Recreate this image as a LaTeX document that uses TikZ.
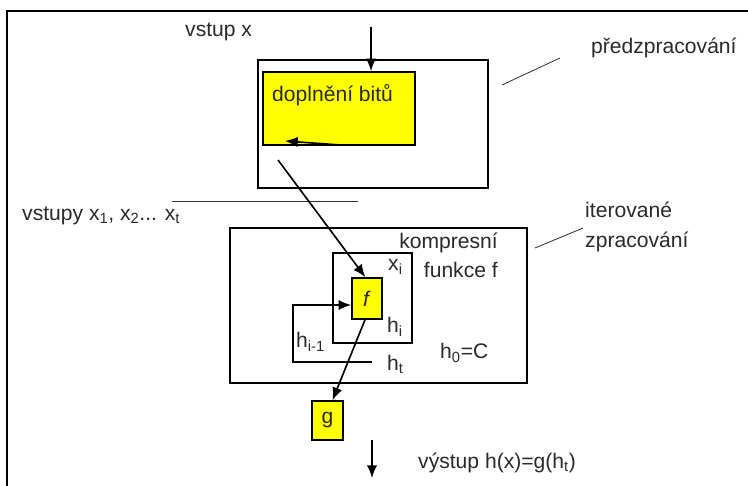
\documentclass[tikz,border=0pt]{standalone}
\usepackage{fontspec}
\setmainfont{Liberation Sans}
\usetikzlibrary{arrows.meta, positioning, calc}
\definecolor{zlutaBlok}{HTML}{FFFF00}
\definecolor{seduText}{HTML}{2A2A2A}
\colorlet{colCara}{black}
\tikzset{
  ramec/.style={
    draw=colCara, line width=1.4pt, inner sep=0pt
  },
  ramecBlok/.style={ramec},
  zlutyBlok/.style={ramec, fill=zlutaBlok, font=\fontsize{18}{21}\selectfont, text=seduText},
  sipka/.style={-{Latex[length=3.8mm, width=3.1mm]}, line width=1.4pt, colCara},
  cara/.style={line width=1.4pt, colCara},
  voditko/.style={line width=0.7pt, colCara!80},
  popis/.style={font=\fontsize{18}{21}\selectfont, text=seduText, inner sep=0pt, anchor=west},
}
\begin{document}
\begin{tikzpicture}[x=0.03cm, y=-0.03cm]
    \useasboundingbox (0,0) rectangle (748,486);
    \draw[line width=1pt] (7,486) -- (7,11) -- (748,11);
    % predzpracovani
    \node[ramecBlok, minimum width=6.9cm, minimum height=3.84cm] (predBox) at (373,124) {};
    \node[zlutyBlok, minimum width=4.56cm, minimum height=2.19cm] (doplneni) at (339,108.5) {};
    \node[popis] (doplneniText) at (272,95) {doplnění bitů};
    \node[popis] (vstupText) at (185,32) {vstup x};
    \coordinate (vstupHore) at (371,27);
    \draw[sipka] (vstupHore) -- (vstupHore |- doplneni.north);
    \coordinate (vnitrniStart) at (340,145);
    \coordinate (vnitrniKonec) at (285,141);
    \draw[sipka] (vnitrniStart) -- (vnitrniKonec);
    \node[popis] (predText) at (591,48) {předzpracování};
    \coordinate (predVodA) at (502,85);
    \coordinate (predVodB) at (560,58);
    \draw[voditko] (predVodA) -- (predVodB);
    % vstupy
    \coordinate (delA) at (172,201);
    \coordinate (delB) at (358,201);
    \draw[voditko] (delA) -- (delB);
    \node[popis] (vstupyText) at (22,216) {vstupy x\textsubscript{1}, x\textsubscript{2}... x\textsubscript{t}};
    % iterovane zpracovani
    \node[ramecBlok, minimum width=8.91cm, minimum height=4.65cm] (iterBox) at (378.5,305.5) {};
    \node[ramecBlok, minimum width=2.37cm, minimum height=2.7cm] (kompBox) at (372.5,298) {};
    \node[zlutyBlok, minimum width=0.9cm, minimum height=1.23cm] (fBlok) at (367,298.5) {\textit{f}};
    \node[zlutyBlok, minimum width=0.93cm, minimum height=1.17cm] (gBlok) at (327.5,420.5) {g};
    \node[popis, align=left, font=\fontsize{18}{25}\selectfont] (iterText) at (585,227) {iterované\\zpracování};
    \coordinate (iterVodA) at (535,248);
    \coordinate (iterVodB) at (583,228);
    \draw[voditko] (iterVodA) -- (iterVodB);
    \node[popis, anchor=east, align=right, font=\fontsize{18}{25}\selectfont] (kompText) at (498,255) {kompresní\\funkce f};
    \node[popis] (xiText) at (388,267) {x\textsubscript{i}};
    \node[popis] (hiText) at (387,327) {h\textsubscript{i}};
    \node[popis] (hPredText) at (296,342) {h\textsubscript{i-1}};
    \node[popis] (htText) at (387,364) {h\textsubscript{t}};
    \node[popis] (h0Text) at (440,353) {h\textsubscript{0}=C};
    \coordinate (diagStart) at (278,160);
    \draw[sipka] (diagStart) -- ([xshift=-0.05cm]fBlok.north);
    \coordinate (zpetStart) at (372,362);
    \coordinate (zpetRoh) at (293,305);
    \draw[sipka] (zpetStart) -| (zpetRoh) -- (zpetRoh -| fBlok.west);
    \draw[sipka] ([xshift=-0.06cm]fBlok.south) -- ([xshift=0.15cm]gBlok.north);
    % vystup
    \coordinate (vystupA) at (372,440);
    \coordinate (vystupB) at (372,478);
    \draw[sipka] (vystupA) -- (vystupB);
    \node[popis] (vystupText) at (418,463) {výstup h(x)=g(h\textsubscript{t})};
  \end{tikzpicture}
\end{document}
